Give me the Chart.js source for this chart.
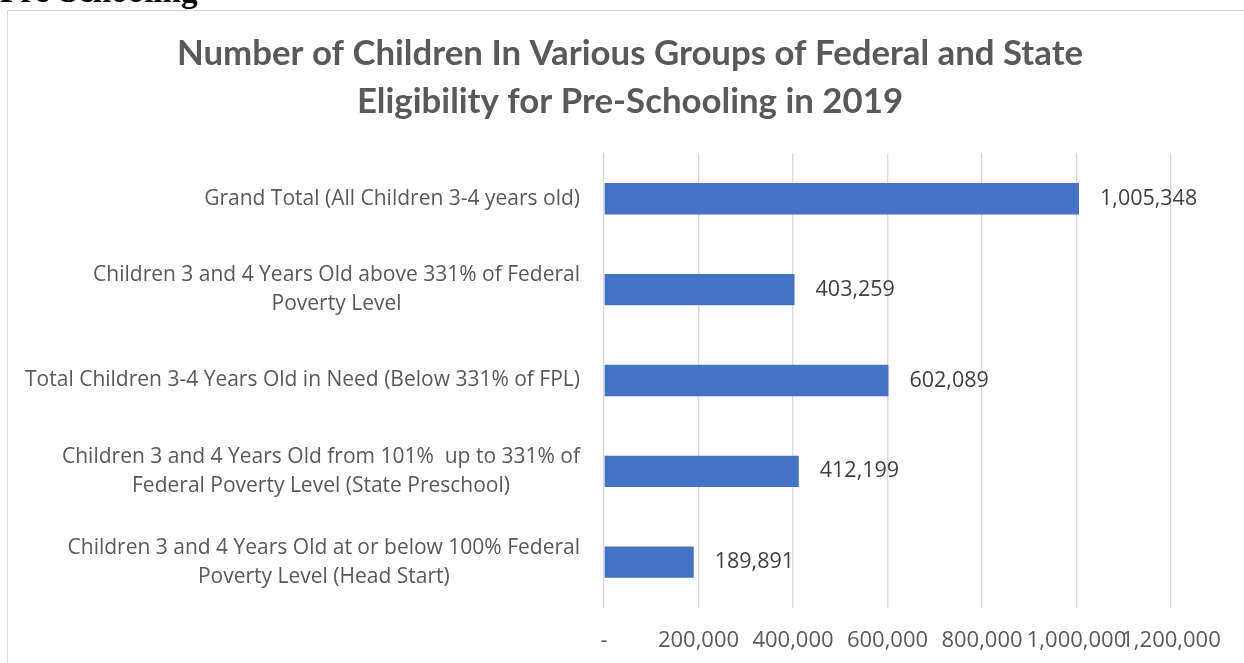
<!DOCTYPE html>
<html>
<head>
<meta charset="utf-8">
<script src="https://cdn.jsdelivr.net/npm/chart.js@4"></script>
<style>
    body { margin: 0; background: #fff; overflow: hidden; }
    #head { position: absolute; left: 0; top: -28px; font: bold 33px "Liberation Serif", serif; line-height: 38px; color: #000; }
    #frame { position: absolute; left: 7px; top: 10px; width: 1300px; height: 700px; border: 1px solid #d9d9d9; }
    #wrap { position: absolute; left: 0; top: 0; width: 1244px; height: 686px; }
</style>
</head>
<body>
<div id="head">Pre-Schooling</div>
<div id="frame"></div>
<div id="wrap"><canvas id="myChart"></canvas></div>
<script>
const categories = [
    ['Grand Total (All Children 3-4 years old)'],
    ['Children 3 and 4 Years Old above 331% of Federal', 'Poverty Level'],
    ['Total Children 3-4 Years Old in Need (Below 331% of FPL)'],
    ['Children 3 and 4 Years Old from 101%  up to 331% of', 'Federal Poverty Level (State Preschool)'],
    ['Children 3 and 4 Years Old at or below 100% Federal', 'Poverty Level (Head Start)']
];
const counts = [1005348, 403259, 602089, 412199, 189891];
const xTicks = [0, 200000, 400000, 600000, 800000, 1000000, 1200000];

const FONT = '"Open Sans", sans-serif';
const TITLE_FONT = 'Lato, "Open Sans", sans-serif';
const LEFT_PAD = 89;

function fmt(v) {
    return v === 0 ? '-' : v.toLocaleString('en-US');
}

// category labels: block right aligned, lines centered inside block
const catLabels = {
    id: 'catLabels',
    afterDraw(chart) {
        const ctx = chart.ctx;
        const y = chart.scales.y;
        ctx.save();
        ctx.font = '21px ' + FONT;
        ctx.fillStyle = '#595959';
        ctx.textBaseline = 'middle';
        ctx.textAlign = 'center';
        const right = 580;
        const lh = 29;
        categories.forEach(function(lines, i) {
            let w = 0;
            lines.forEach(function(l) { w = Math.max(w, ctx.measureText(l).width); });
            const cx = right - w / 2;
            const cy = y.getPixelForValue(i);
            const top = cy - (lines.length - 1) * lh / 2;
            lines.forEach(function(l, k) {
                ctx.fillText(l, cx, top + k * lh);
            });
        });
        ctx.restore();
    }
};

const valueLabels = {
    id: 'valueLabels',
    afterDatasetsDraw(chart) {
        const ctx = chart.ctx;
        const meta = chart.getDatasetMeta(0);
        ctx.save();
        ctx.font = '21.5px ' + FONT;
        ctx.fillStyle = '#404040';
        ctx.textBaseline = 'middle';
        ctx.textAlign = 'left';
        meta.data.forEach(function(bar, i) {
            ctx.fillText(fmt(counts[i]), bar.x + 21, bar.y);
        });
        ctx.restore();
    }
};

const ctx = document.getElementById('myChart');
// eslint-disable-next-line no-unused-vars
const myChart = new Chart(ctx, {
    type: 'bar',
    data: {
        labels: categories,
        datasets: [{
            data: counts,
            backgroundColor: '#4472C4',
            categoryPercentage: 1,
            barPercentage: 0.345
        }]
    },
    options: {
        indexAxis: 'y',
        responsive: true,
        maintainAspectRatio: false,
        animation: false,
        layout: {
            padding: { left: LEFT_PAD, right: 73, top: 20, bottom: 12 }
        },
        plugins: {
            legend: { display: false },
            tooltip: { enabled: false },
            title: {
                display: true,
                text: ['Number of Children In Various Groups of Federal and State', 'Eligibility for Pre-Schooling in 2019'],
                color: '#595959',
                font: { family: TITLE_FONT, size: 34.8, weight: 'bold', lineHeight: 1.37 },
                padding: { top: 10, bottom: 28 }
            }
        },
        scales: {
            x: {
                min: 0,
                max: 1200000,
                afterBuildTicks: function(scale) {
                    scale.ticks = xTicks.map(function(v) { return { value: v }; });
                },
                grid: { color: '#d9d9d9', lineWidth: 1.3, drawTicks: false },
                border: { display: false },
                ticks: {
                    color: '#595959',
                    font: { family: FONT, size: 22 },
                    padding: 20,
                    maxRotation: 0,
                    autoSkip: false,
                    callback: function(v) { return fmt(v); }
                }
            },
            y: {
                afterFit: function(scale) {
                    scale.width = 604 - LEFT_PAD;
                },
                grid: { display: false },
                border: { display: false },
                ticks: { display: false }
            }
        }
    },
    plugins: [catLabels, valueLabels]
});
</script>
</body>
</html>
